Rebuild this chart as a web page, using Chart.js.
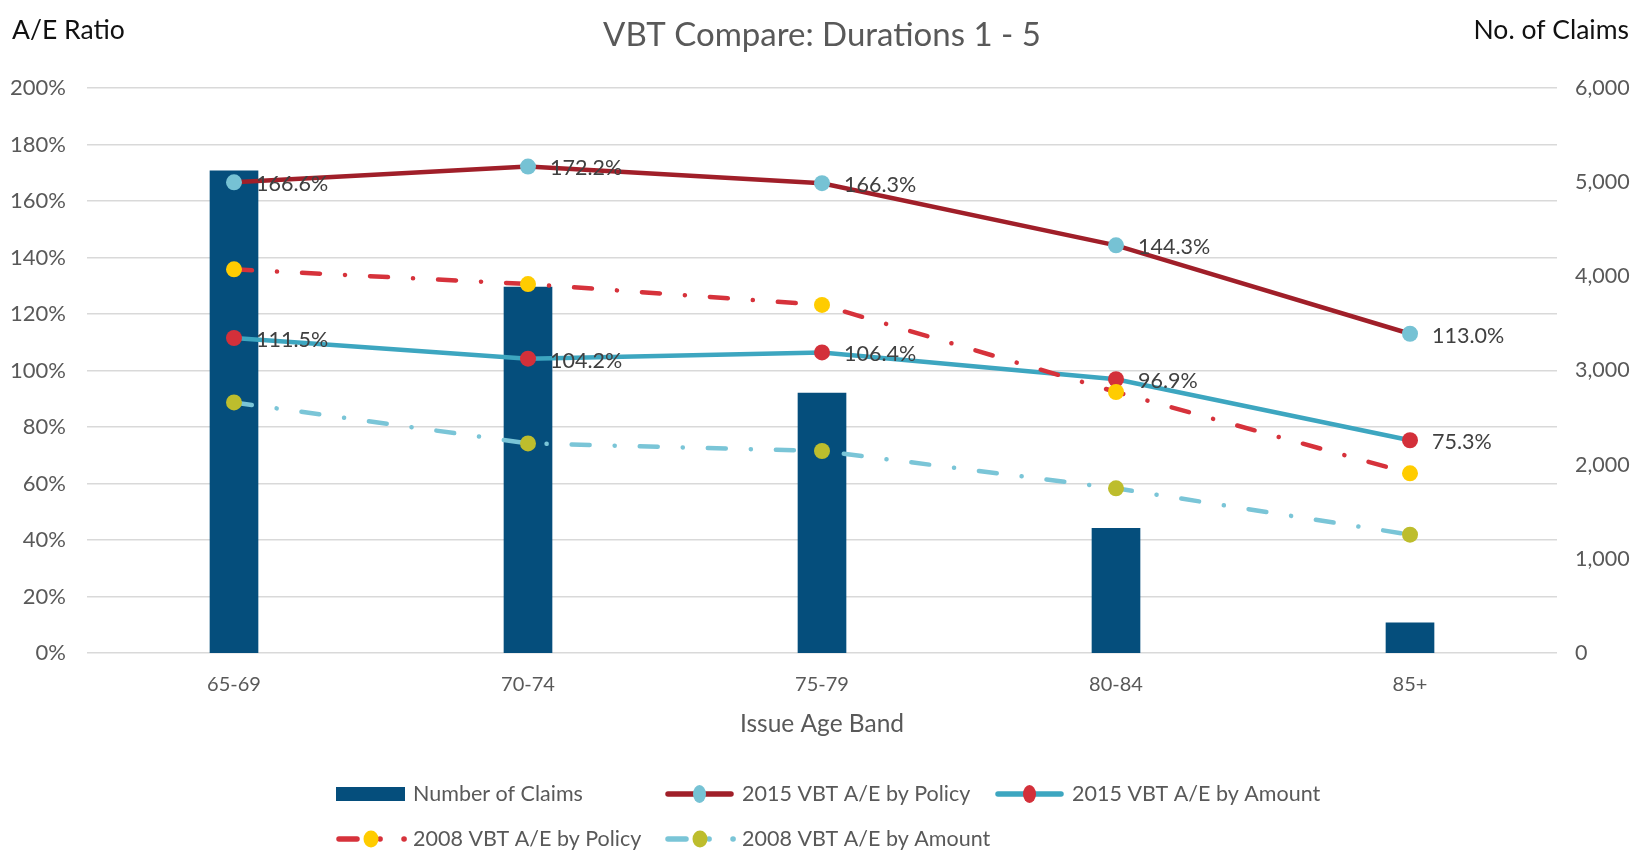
<!DOCTYPE html>
<html><head><meta charset="utf-8">
<script src="https://cdn.jsdelivr.net/npm/chart.js@4/dist/chart.umd.min.js"></script>
<style>html,body{margin:0;padding:0;background:#fff;}#wrap{width:1649px;height:853px;}</style>
</head><body><div id="wrap"><canvas id="c" width="1649" height="853"></canvas></div>
<script>
const categories = ['65-69', '70-74', '75-79', '80-84', '85+'];
const numberOfClaims = [5120, 3885, 2760, 1325, 320];
const vbt2015Policy = [166.6, 172.2, 166.3, 144.3, 113.0];
const vbt2015Amount = [111.5, 104.2, 106.4, 96.9, 75.3];
const vbt2008Policy = [135.8, 130.6, 123.2, 92.4, 63.6];
const vbt2008Amount = [88.7, 74.2, 71.5, 58.3, 41.9];
const seriesNames = ['Number of Claims', '2015 VBT A/E by Policy', '2015 VBT A/E by Amount', '2008 VBT A/E by Policy', '2008 VBT A/E by Amount'];
const chartTitle = 'VBT Compare: Durations 1 - 5';
const leftAxisTitle = 'A/E Ratio';
const rightAxisTitle = 'No. of Claims';
const xAxisTitle = 'Issue Age Band';

const FONT = 'Lato, "Open Sans", sans-serif';
const GRAY = '#595959';
const DASH = [18, 25, 0.1, 25];

const decor = {
  id: 'decor',
  afterDatasetsDraw(chart) {
    const ctx = chart.ctx;
    ctx.save();
    ctx.font = '21.5px ' + FONT;
    ctx.fillStyle = '#404040';
    ctx.textAlign = 'left';
    ctx.textBaseline = 'middle';
    [1, 2].forEach(i => {
      const meta = chart.getDatasetMeta(i);
      const d = chart.data.datasets[i].data;
      meta.data.forEach((pt, j) => {
        ctx.fillText(d[j].toFixed(1) + '%', pt.x + 22, pt.y + 2);
      });
    });
    ctx.restore();
  },
  afterDraw(chart) {
    const ctx = chart.ctx;
    const ca = chart.chartArea;
    ctx.save();
    ctx.textBaseline = 'middle';
    // title
    ctx.font = '33px ' + FONT;
    ctx.fillStyle = GRAY;
    ctx.textAlign = 'center';
    ctx.fillText(chartTitle, (ca.left + ca.right) / 2, 35);
    // axis titles
    ctx.font = '26.5px ' + FONT;
    ctx.fillStyle = '#111';
    ctx.textAlign = 'left';
    ctx.fillText(leftAxisTitle, 12, 30);
    ctx.textAlign = 'right';
    ctx.fillText(rightAxisTitle, 1629, 30);
    ctx.font = '24.5px ' + FONT;
    ctx.fillStyle = GRAY;
    ctx.textAlign = 'center';
    ctx.fillText(xAxisTitle, (ca.left + ca.right) / 2, 724);
    // legend
    const ds = chart.data.datasets;
    const items = [
      {i: 0, x: 336, y: 794}, {i: 1, x: 665, y: 794}, {i: 2, x: 995, y: 794},
      {i: 3, x: 336, y: 839}, {i: 4, x: 665, y: 839}
    ];
    ctx.font = '21.5px ' + FONT;
    items.forEach(it => {
      const d = ds[it.i];
      const x0 = it.x, x1 = it.x + 69, y = it.y;
      if (it.i === 0) {
        ctx.fillStyle = d.backgroundColor;
        ctx.fillRect(x0, y - 7, 69, 14);
      } else if (!d.borderDash) {
        ctx.strokeStyle = d.borderColor;
        ctx.lineWidth = 5.5;
        ctx.lineCap = 'round';
        ctx.beginPath(); ctx.moveTo(x0 + 3, y); ctx.lineTo(x1 - 3, y); ctx.stroke();
        ctx.fillStyle = d.pointBackgroundColor;
        ctx.beginPath(); ctx.ellipse((x0 + x1) / 2, y, 6.5, 9, 0, 0, Math.PI * 2); ctx.fill();
      } else {
        ctx.strokeStyle = d.borderColor;
        ctx.lineWidth = 5.5;
        ctx.lineCap = 'round';
        ctx.beginPath(); ctx.moveTo(x0 + 3, y); ctx.lineTo(x0 + 21, y); ctx.stroke();
        ctx.beginPath(); ctx.moveTo(x0 + 44, y); ctx.lineTo(x0 + 44.1, y); ctx.stroke();
        ctx.beginPath(); ctx.moveTo(x1 - 1, y); ctx.lineTo(x1 - 0.9, y); ctx.stroke();
        ctx.fillStyle = d.pointBackgroundColor;
        ctx.beginPath(); ctx.ellipse(x0 + 35, y, 7.5, 8.5, 0, 0, Math.PI * 2); ctx.fill();
      }
      ctx.fillStyle = GRAY;
      ctx.textAlign = 'left';
      ctx.fillText(d.label, x1 + 8, y);
    });
    ctx.restore();
  }
};

new Chart(document.getElementById('c'), {
  data: {
    labels: categories,
    datasets: [
      {type: 'bar', label: seriesNames[0], data: numberOfClaims, yAxisID: 'y1',
       backgroundColor: '#054E7C', barThickness: 48, order: 10},
      {type: 'line', label: seriesNames[1], data: vbt2015Policy, yAxisID: 'y',
       borderColor: '#A01F29', borderWidth: 4.5, pointRadius: 8, pointHoverRadius: 8,
       pointBackgroundColor: '#76C2D4', pointBorderWidth: 0, pointBorderColor: '#76C2D4', order: 4, tension: 0},
      {type: 'line', label: seriesNames[2], data: vbt2015Amount, yAxisID: 'y',
       borderColor: '#3DA6C0', borderWidth: 4.5, pointRadius: 8, pointHoverRadius: 8,
       pointBackgroundColor: '#D3303A', pointBorderWidth: 0, pointBorderColor: '#D3303A', order: 3, tension: 0},
      {type: 'line', label: seriesNames[3], data: vbt2008Policy, yAxisID: 'y',
       borderColor: '#D6323B', borderWidth: 4.5, borderDash: DASH, borderCapStyle: 'round',
       pointRadius: 8, pointHoverRadius: 8,
       pointBackgroundColor: '#FFCC00', pointBorderWidth: 0, pointBorderColor: '#FFCC00', order: 2, tension: 0},
      {type: 'line', label: seriesNames[4], data: vbt2008Amount, yAxisID: 'y',
       borderColor: '#7AC5D7', borderWidth: 4.5, borderDash: DASH, borderCapStyle: 'round',
       pointRadius: 8, pointHoverRadius: 8,
       pointBackgroundColor: '#BDBD2D', pointBorderWidth: 0, pointBorderColor: '#BDBD2D', order: 1, tension: 0}
    ]
  },
  options: {
    responsive: false,
    animation: false,
    devicePixelRatio: 1,
    layout: {autoPadding: false, padding: {top: 88, bottom: 140, left: 0, right: 0}},
    plugins: {legend: {display: false}, title: {display: false}, tooltip: {enabled: false}},
    scales: {
      x: {
        type: 'category', offset: true,
        grid: {display: false, drawTicks: false}, border: {display: false},
        ticks: {color: GRAY, font: {family: FONT, size: 20}, padding: 20, maxRotation: 0},
        afterFit(s) { s.height = 60; }
      },
      y: {
        position: 'left', min: 0, max: 200,
        grid: {color: '#D9D9D9', lineWidth: 1.5, drawTicks: false}, border: {display: false},
        ticks: {stepSize: 20, color: GRAY, font: {family: FONT, size: 22}, padding: 21,
                callback: v => v + '%'},
        afterFit(s) { s.width = 87; }
      },
      y1: {
        position: 'right', min: 0, max: 6000,
        grid: {display: false, drawTicks: false}, border: {display: false},
        ticks: {stepSize: 1000, color: GRAY, font: {family: FONT, size: 21.5}, padding: 18,
                callback: v => v.toLocaleString('en-US')},
        afterFit(s) { s.width = 92; }
      }
    }
  },
  plugins: [decor]
});
</script>
</body></html>
